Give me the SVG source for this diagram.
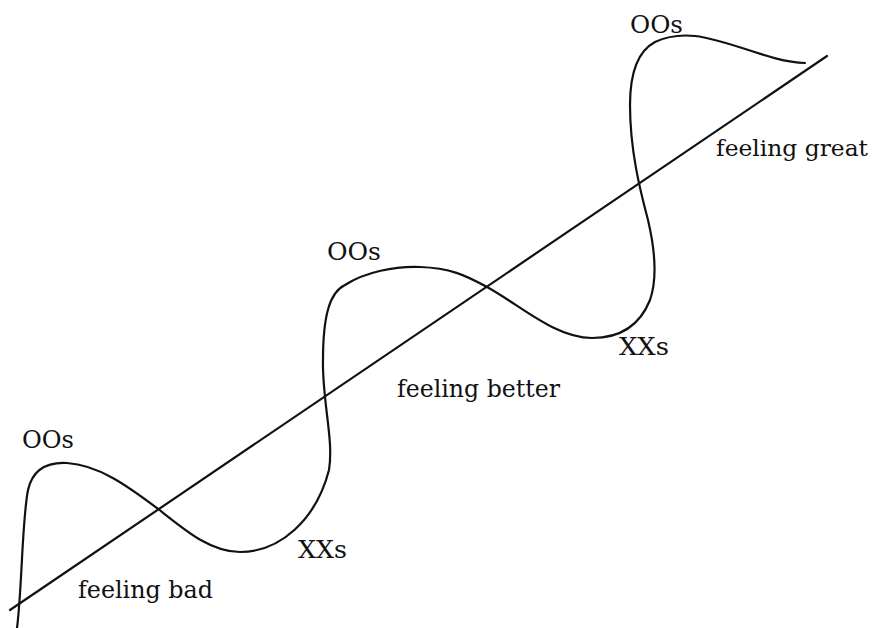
<svg xmlns="http://www.w3.org/2000/svg" width="876" height="628" viewBox="0 0 876 628">
<style>
.ln{fill:none;stroke:#111;stroke-width:2.2;stroke-linecap:round;stroke-linejoin:round}
.t{font-family:"DejaVu Serif","Liberation Serif",serif;font-size:25px;fill:#111}
.s{font-size:23px}
</style>
<rect width="876" height="628" fill="#fff"/>
<g id="connectors">
<path id="trend" class="ln" d="M10,610 L827,56"/>
<path id="wave" class="ln" d="M17,628 C22,590 22,520 28,490 C33,468 48,462 67,463 C100,465 130,488 157,508 C185,530 210,552 240,552 C280,552 316,520 329,470 C334,440 322,400 323,360 C323,315 330,292 345,285 C365,272 395,266 420,267 C450,268 465,275 487,287 C520,305 555,338 592,338 C620,338 640,325 650,300 C657,280 655,250 648,220 C640,190 630,150 630,105 C630,70 640,50 655,42 C670,35 685,35 695,36 C730,40 770,62 805,63"/>
</g>
<g id="oos1"><text class="t" x="22" y="448" textLength="52" lengthAdjust="spacingAndGlyphs">OOs</text></g>
<g id="xxs1"><text class="t" x="298" y="558" textLength="49" lengthAdjust="spacingAndGlyphs">XXs</text></g>
<g id="bad"><text class="t" x="78" y="598" textLength="135" lengthAdjust="spacingAndGlyphs">feeling bad</text></g>
<g id="oos2"><text class="t" x="327" y="260" textLength="54" lengthAdjust="spacingAndGlyphs">OOs</text></g>
<g id="better"><text class="t" x="397" y="397" textLength="163" lengthAdjust="spacingAndGlyphs">feeling better</text></g>
<g id="xxs2"><text class="t" x="619" y="355" textLength="50" lengthAdjust="spacingAndGlyphs">XXs</text></g>
<g id="oos3"><text class="t" x="630" y="33" textLength="53" lengthAdjust="spacingAndGlyphs">OOs</text></g>
<g id="great"><text class="t s" x="716" y="156" textLength="152" lengthAdjust="spacingAndGlyphs">feeling great</text></g>
</svg>
